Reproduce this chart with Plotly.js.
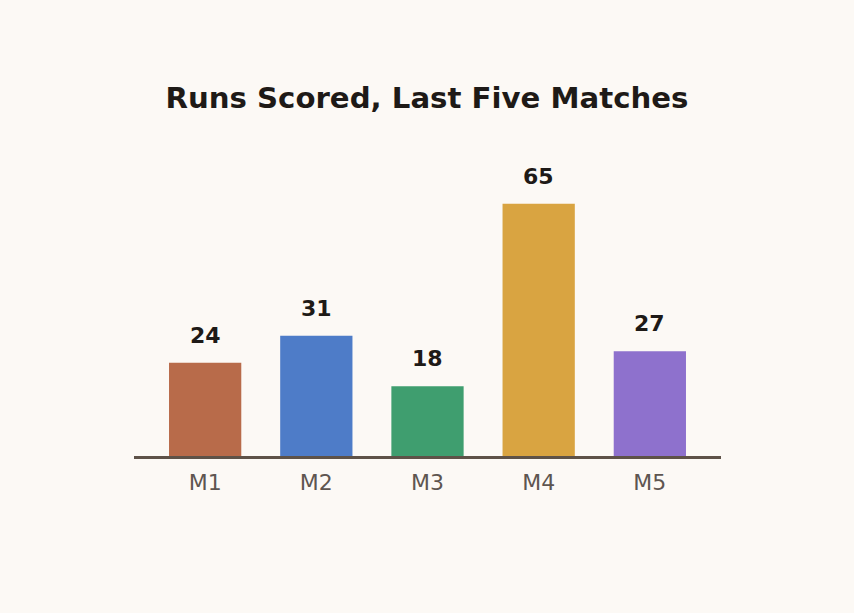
<!DOCTYPE html>
<html>
<head>
<meta charset="utf-8">
<script src="https://cdn.plot.ly/plotly-3.0.1.min.js"></script>
<style>html,body{margin:0;padding:0;background:#fcf9f5;}</style>
</head>
<body>
<div id="chart" style="width:854px;height:613px;"></div>
<script>
const categories = ["M1", "M2", "M3", "M4", "M5"];
const runs = [24, 31, 18, 65, 27];
const barColors = ["#b86b4a", "#4e7cc8", "#3f9e6f", "#d9a441", "#8e71cd"];

const trace = {
  type: "bar",
  x: categories,
  y: runs,
  marker: { color: barColors },
  hoverinfo: "none"
};

const annotations = categories.map((c, i) => ({
  x: c, y: runs[i], xref: "x", yref: "y",
  text: "<b>" + runs[i] + "</b>",
  showarrow: false,
  yanchor: "bottom",
  yshift: 13,
  font: { family: "DejaVu Sans", size: 22, color: "#1e1a17" }
}));

const layout = {
  width: 854, height: 613,
  paper_bgcolor: "#fcf9f5",
  plot_bgcolor: "#fcf9f5",
  margin: { l: 134, r: 133, t: 147, b: 157 },
  bargap: 0.35,
  showlegend: false,
  title: {
    text: "<b>Runs Scored, Last Five Matches</b>",
    font: { family: "DejaVu Sans", size: 29.2, color: "#1e1a17" },
    x: 0.5, xanchor: "center",
    y: 1 - 98 / 613, yanchor: "middle", yref: "container"
  },
  xaxis: {
    range: [-0.64, 4.64],
    showline: true, linecolor: "#5e5248", linewidth: 3,
    ticks: "", showgrid: false, zeroline: false,
    ticklabelstandoff: 5,
    tickfont: { family: "DejaVu Sans", size: 22, color: "#5e5550" }
  },
  yaxis: {
    range: [0, 79.6],
    visible: false, showgrid: false, zeroline: false
  },
  annotations: annotations
};

Plotly.newPlot("chart", [trace], layout, { staticPlot: true, displayModeBar: false });
</script>
</body>
</html>
